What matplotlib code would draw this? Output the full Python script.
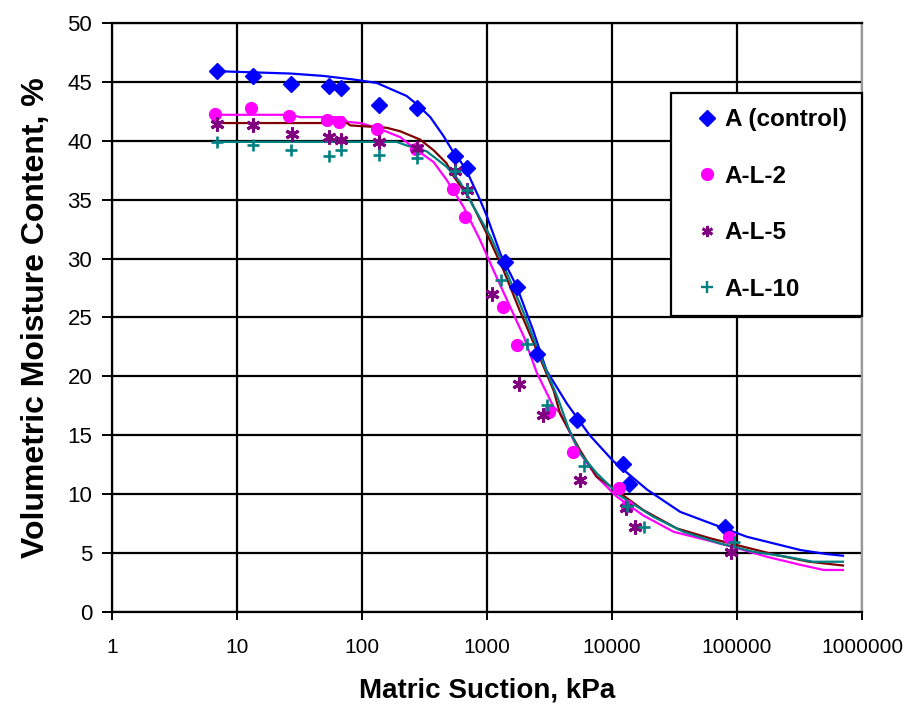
import matplotlib
matplotlib.use('Agg')
import matplotlib.pyplot as plt
from matplotlib.lines import Line2D

plt.rcParams['font.family'] = ['Liberation Sans', 'DejaVu Sans']

# measured points
a_x = [6.9, 13.4, 27.2, 54.7, 68.2, 138, 275, 557, 692, 1400, 1757, 2540, 5250, 12240, 13830, 80600]
a_y = [45.9, 45.5, 44.8, 44.65, 44.5, 43.0, 42.8, 38.7, 37.7, 29.7, 27.6, 21.9, 16.3, 12.6, 10.9, 7.24]

l2_x = [6.7, 12.9, 26.2, 52.8, 65.8, 132, 270, 535, 670, 1343, 1757, 3165, 4930, 11430, 13180, 86700]
l2_y = [42.3, 42.8, 42.1, 41.8, 41.6, 41.0, 39.3, 35.9, 33.5, 25.9, 22.7, 17.0, 13.6, 10.55, 9.0, 6.34]

l5_x = [7.0, 13.5, 27.5, 55.0, 68.2, 136, 275, 557, 692, 1096, 1823, 2805, 5510, 12940, 15360, 89500]
l5_y = [41.4, 41.3, 40.6, 40.3, 40.1, 39.9, 39.4, 37.4, 35.8, 27.0, 19.35, 16.7, 11.2, 8.85, 7.19, 5.12]

l10_x = [6.9, 13.4, 27.2, 54.7, 68.2, 136, 275, 557, 692, 1294, 2089, 3054, 5930, 13180, 17900, 93900]
l10_y = [39.9, 39.6, 39.2, 38.7, 39.2, 38.8, 38.5, 37.4, 35.8, 28.2, 22.75, 17.6, 12.4, 9.0, 7.24, 5.97]

# fitted curves
a_cx = [6.9, 27, 49, 85, 132, 169, 228, 275, 353, 450, 541, 620, 692, 880, 1000, 1284, 1737, 2346,
        3000, 4360, 6650, 10280, 19050, 35200, 73000, 120000, 196000, 323000, 522000, 705000]
a_cy = [45.9, 45.7, 45.5, 45.2, 44.9, 44.4, 43.8, 43.1, 42.0, 40.4, 39.0, 38.2, 37.4, 35.0, 33.6,
        30.4, 27.6, 23.9, 20.5, 17.7, 15.0, 12.8, 10.4, 8.5, 7.24, 6.39, 5.83, 5.26, 4.92, 4.78]

l2_cx = [6.7, 27, 32, 71, 76, 97, 132, 203, 275, 374, 475, 650, 880, 1130, 1535, 1970, 2510,
         3420, 3860, 5550, 7530, 10920, 17800, 31300, 57700, 94300, 174000, 323000, 494000, 705000]
l2_cy = [42.2, 42.2, 42.0, 42.0, 41.6, 41.5, 41.1, 40.3, 39.2, 38.2, 36.7, 34.4, 31.6, 29.0, 25.9,
         23.4, 20.3, 17.4, 16.9, 13.5, 11.5, 9.8, 8.2, 6.8, 6.1, 5.5, 4.69, 4.0, 3.57, 3.57]

l5_cx = [7.0, 76, 81, 158, 203, 292, 374, 475, 541, 735, 1000, 1360, 1830, 2510, 3420, 3860,
         5550, 7530, 10280, 17800, 33000, 61000, 113000, 207000, 377000, 705000]
l5_cy = [41.5, 41.5, 41.3, 41.1, 40.8, 40.1, 39.2, 38.1, 37.0, 35.0, 32.1, 29.0, 25.6, 22.2, 18.8,
         16.8, 13.75, 11.5, 10.5, 8.66, 7.1, 6.26, 5.54, 4.84, 4.27, 3.95]

l10_cx = [6.7, 190, 228, 330, 475, 610, 781, 1067, 1450, 1970, 2680, 3650, 4540, 5550, 7530,
          11500, 21300, 37500, 73000, 135000, 250000, 405000, 705000]
l10_cy = [39.9, 39.9, 39.6, 39.1, 37.8, 36.5, 34.4, 31.9, 28.75, 25.4, 21.7, 18.3, 15.5, 13.5,
          11.8, 9.9, 8.1, 6.8, 5.83, 5.12, 4.69, 4.27, 4.27]

labels = ['A (control)', 'A-L-2', 'A-L-5', 'A-L-10']
colors = ['#0000FF', '#FF00FF', '#800080', '#008080']
line_colors = ['#0000FF', '#FF00FF', '#800000', '#008080']
xticks = [1, 10, 100, 1000, 10000, 100000, 1000000]

fig = plt.figure(figsize=(9.16, 7.15), dpi=100)
ax = fig.add_axes([0.122, 0.144, 0.819, 0.824])

ax.plot(a_cx, a_cy, color=line_colors[0], lw=1.6)
ax.plot(l2_cx, l2_cy, color=line_colors[1], lw=1.6)
ax.plot(l5_cx, l5_cy, color=line_colors[2], lw=1.6)
ax.plot(l10_cx, l10_cy, color=line_colors[3], lw=1.6)

ax.plot(a_x, a_y, 'D', color=colors[0], ms=8.5, ls='none', zorder=5)
ax.plot(l2_x, l2_y, 'o', color=colors[1], ms=8.5, ls='none', zorder=5)
ax.plot(l5_x, l5_y, marker=(6, 2, 0), color=colors[2], ms=10, mew=2.2, ls='none', zorder=5)
ax.plot(l10_x, l10_y, '+', color=colors[3], ms=8.5, mew=1.9, ls='none', zorder=5)

ax.set_xscale('log')
ax.set_xlim(1, 1000000)
ax.set_ylim(0, 50)
ax.set_xticks(xticks)
ax.set_xticklabels([str(v) for v in xticks])
ax.minorticks_off()
ax.set_yticks(range(0, 51, 5))
ax.grid(True, color='black', lw=1.6)
ax.set_axisbelow(True)
for s in ['left', 'bottom', 'top']:
    ax.spines[s].set_linewidth(1.6)
ax.spines['right'].set_color('#999999')
ax.spines['right'].set_linewidth(1.6)
ax.tick_params(axis='x', length=5.5, width=1.4, labelsize=15, pad=13)
ax.tick_params(axis='y', length=7, width=1.4, labelsize=16, pad=7)

ax.set_xlabel('Matric Suction, kPa', fontsize=20, fontweight='bold', labelpad=15)
ax.set_ylabel('Volumetric Moisture Content, %', fontsize=23, fontweight='bold', labelpad=12)

handles = [
    Line2D([], [], marker='D', color=colors[0], ls='none', ms=8),
    Line2D([], [], marker='o', color=colors[1], ls='none', ms=8.5),
    Line2D([], [], marker=(6, 2, 0), color=colors[2], ls='none', ms=8, mew=2),
    Line2D([], [], marker='+', color=colors[3], ls='none', ms=8, mew=1.7),
]
leg = ax.legend(handles, labels, loc='upper right', bbox_to_anchor=(1.0, 0.881),
                prop={'size': 17.5, 'weight': 'bold'}, frameon=True, fancybox=False,
                edgecolor='black', framealpha=1, borderaxespad=0, labelspacing=1.38,
                handletextpad=-0.1, handlelength=1.7, borderpad=0.62)
leg.get_frame().set_linewidth(1.6)

fig.savefig('out.png', dpi=100)
